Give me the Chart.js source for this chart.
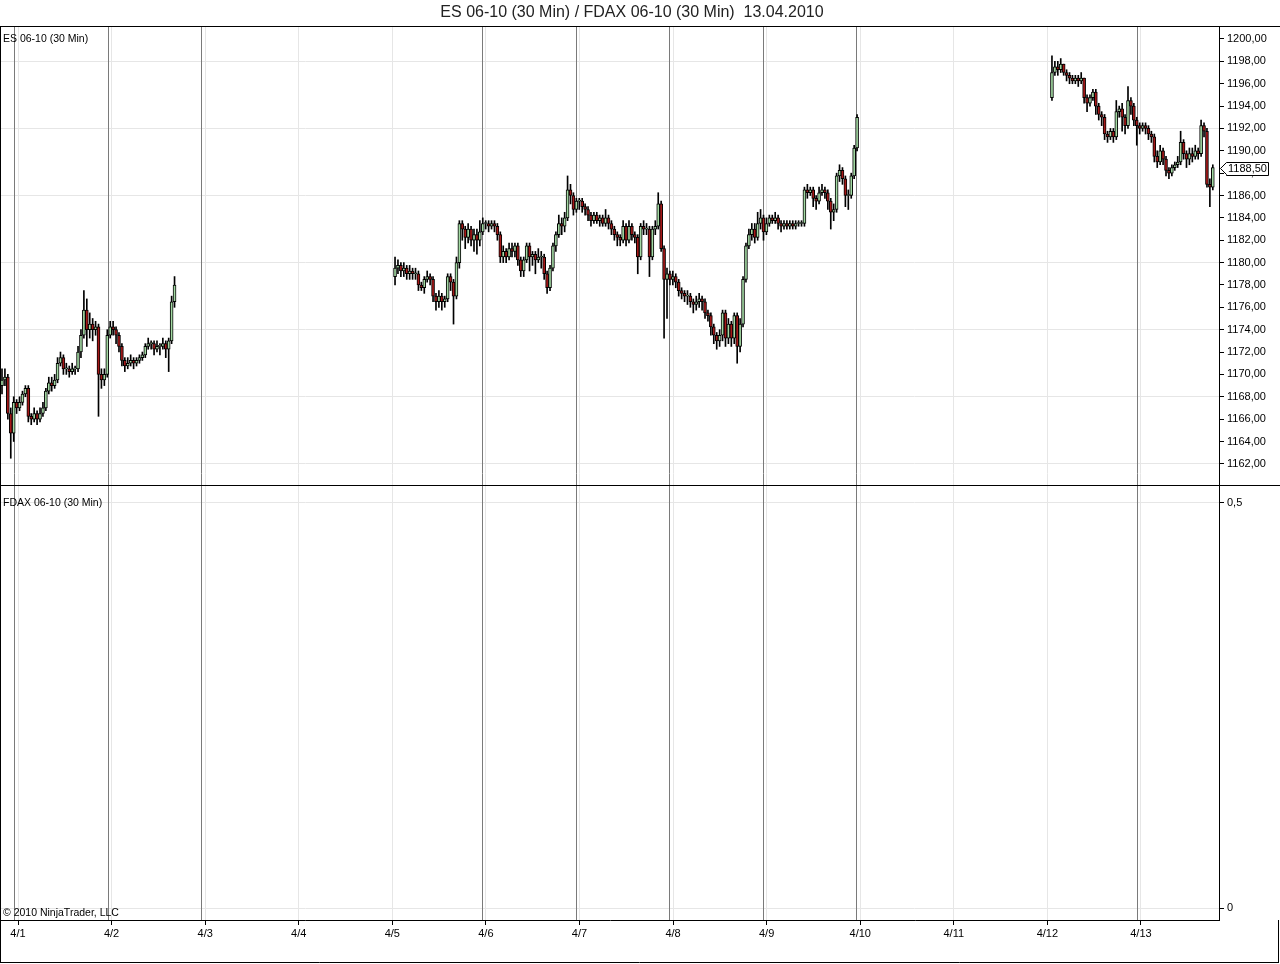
<!DOCTYPE html>
<html>
<head>
<meta charset="utf-8">
<script src="https://cdn.jsdelivr.net/npm/chart.js@4.4.0/dist/chart.umd.min.js"></script>
<style>
  html, body { margin: 0; padding: 0; background: #fff; }
  canvas { display: block; }
</style>
</head>
<body>
<canvas id="chart" width="1280" height="964"></canvas>
<script>
// time axis is in days of April 2010, one bar every barStep days
var barStep = 1 / 32;
var dayTicks = [1, 2, 3, 4, 5, 6, 7, 8, 9, 10, 11, 12, 13];
var sessionBreaks = [0.958, 1.958, 2.958, 5.958, 6.958, 7.958, 8.958, 9.958, 12.958];

// ES price ticks (upper pane) and FDAX ticks (lower pane)
var esTicks = [1162, 1164, 1166, 1168, 1170, 1172, 1174, 1176, 1178, 1180, 1182, 1184, 1186, 1188, 1190, 1192, 1194, 1196, 1198, 1200];
var esGridLevels = [1162, 1168, 1174, 1180, 1186, 1192, 1198];
var fdaxTicks = [0, 0.5];

// ES 06-10 candles, 4/1 - 4/2
var seg1Start = 0.829;
var seg1Open = 1169.0;
var seg1Close = [1169.5,1169.75,1166.5,1164.75,1167.5,1167.0,1167.5,1168.25,1168.75,1166.25,
  1166.0,1166.5,1166.0,1166.5,1167.0,1168.5,1169.25,1169.0,1169.5,1171.0,
  1171.5,1170.5,1170.5,1170.25,1170.5,1170.5,1172.0,1173.5,1175.75,1174.0,
  1174.5,1174.0,1174.25,1170.0,1169.5,1170.0,1173.5,1174.25,1174.0,1173.5,
  1172.5,1171.25,1170.75,1171.0,1171.25,1171.0,1171.25,1171.5,1171.75,1172.5,
  1172.75,1172.75,1172.25,1172.5,1172.5,1172.75,1172.25,1173.0,1176.5,1178.0];
var seg1High = [1170.5,1170.5,1170.0,1167.0,1168.0,1167.75,1168.0,1168.5,1169.0,1169.0,
  1166.5,1167.0,1166.75,1167.0,1167.5,1168.75,1169.75,1169.75,1170.0,1171.5,
  1172.0,1171.75,1171.0,1170.75,1171.0,1170.75,1172.5,1174.0,1177.5,1176.75,
  1175.5,1175.0,1174.75,1174.5,1170.5,1170.5,1174.0,1174.75,1174.75,1174.25,
  1173.75,1172.75,1171.5,1171.5,1171.75,1171.5,1171.5,1171.75,1172.0,1172.75,
  1173.25,1173.0,1173.0,1173.0,1172.75,1173.25,1173.0,1173.25,1177.0,1178.75];
var seg1Low = [1168.25,1169.0,1166.0,1162.5,1164.0,1166.5,1166.75,1167.25,1168.0,1165.75,
  1165.5,1165.75,1165.5,1165.75,1166.25,1166.75,1168.25,1168.5,1168.75,1169.25,
  1170.75,1170.0,1170.0,1169.75,1170.0,1170.0,1170.25,1171.5,1173.25,1172.5,
  1173.25,1173.0,1173.5,1166.25,1168.75,1169.0,1169.75,1173.25,1173.5,1172.75,
  1172.0,1170.75,1170.25,1170.5,1170.75,1170.5,1170.75,1171.0,1171.25,1171.5,
  1172.25,1172.25,1171.75,1172.0,1171.75,1172.25,1171.5,1170.25,1172.75,1176.0];

// 4/5 - 4/9
var seg2Start = 5.029;
var seg2Open = 1178.75;
var seg2Close = [1179.5,1179.75,1179.25,1179.5,1179.0,1179.25,1179.0,1179.0,1178.0,1177.75,
  1178.5,1178.75,1178.5,1177.0,1176.5,1177.0,1176.5,1176.75,1178.75,1178.25,
  1177.0,1180.0,1183.5,1183.0,1182.25,1183.0,1182.0,1182.5,1182.0,1182.75,
  1183.5,1183.5,1183.25,1183.5,1183.25,1182.5,1180.5,1181.0,1180.5,1181.25,
  1181.0,1181.5,1180.25,1179.25,1180.25,1181.5,1180.5,1180.75,1180.25,1180.5,
  1180.5,1179.0,1177.75,1179.5,1181.5,1182.5,1183.5,1183.25,1184.0,1186.5,
  1186.0,1184.75,1185.5,1185.5,1185.0,1184.75,1184.25,1183.75,1184.25,1183.75,
  1184.0,1183.5,1184.0,1183.5,1183.0,1182.5,1182.25,1182.0,1183.25,1182.0,
  1183.25,1182.5,1182.25,1180.5,1183.25,1183.0,1183.0,1180.5,1183.0,1183.25,
  1185.25,1181.25,1178.5,1179.0,1178.5,1178.75,1178.25,1177.5,1177.25,1177.0,
  1177.0,1176.5,1176.25,1176.5,1176.75,1176.5,1175.5,1175.25,1174.25,1173.5,
  1173.0,1173.5,1175.5,1173.25,1174.5,1173.25,1175.25,1172.5,1174.5,1178.5,
  1181.5,1182.5,1183.0,1182.25,1183.5,1184.0,1182.75,1183.5,1184.0,1183.75,
  1184.0,1183.5,1183.25,1183.5,1183.25,1183.5,1183.25,1183.5,1183.5,1183.5,
  1186.5,1186.25,1186.5,1185.75,1185.5,1186.25,1186.5,1186.25,1185.5,1184.5,
  1184.75,1187.75,1188.25,1187.5,1186.0,1186.0,1187.75,1190.25,1193.0];
var seg2High = [1180.5,1180.25,1180.0,1180.0,1179.75,1179.75,1179.5,1179.5,1179.25,1178.25,
  1178.75,1179.25,1179.0,1178.75,1177.25,1177.5,1177.25,1177.0,1179.0,1179.0,
  1178.5,1180.5,1183.75,1183.75,1183.25,1183.5,1183.25,1183.0,1183.0,1183.75,
  1184.0,1183.75,1183.75,1183.75,1183.75,1183.5,1182.75,1181.5,1181.25,1181.75,
  1181.75,1181.75,1181.75,1180.5,1180.5,1181.75,1181.75,1181.0,1181.0,1181.25,
  1181.0,1180.75,1179.25,1179.75,1181.75,1182.75,1184.25,1184.0,1184.5,1187.75,
  1187.0,1186.25,1185.75,1185.75,1185.75,1185.25,1185.0,1184.5,1184.5,1184.5,
  1184.25,1184.25,1184.75,1184.25,1183.75,1183.25,1182.75,1182.5,1183.75,1183.5,
  1183.75,1183.5,1182.75,1182.5,1183.5,1183.75,1183.5,1183.25,1183.25,1183.75,
  1186.25,1185.5,1181.5,1179.5,1179.25,1179.25,1179.0,1178.5,1177.75,1177.5,
  1177.5,1177.25,1176.75,1177.0,1177.25,1177.0,1176.75,1175.75,1175.5,1174.5,
  1173.75,1174.0,1175.75,1175.75,1175.0,1174.75,1175.5,1175.5,1175.0,1178.75,
  1181.75,1183.0,1183.5,1183.5,1184.5,1184.75,1184.25,1184.0,1184.25,1184.25,
  1184.5,1184.25,1183.75,1183.75,1183.75,1183.75,1183.75,1183.75,1183.75,1183.75,
  1186.75,1187.0,1186.75,1186.75,1186.0,1186.75,1187.0,1186.75,1186.5,1185.75,
  1185.25,1188.0,1188.75,1188.5,1187.75,1186.5,1188.0,1190.5,1193.25];
var seg2Low = [1178.0,1179.0,1178.75,1178.75,1178.5,1178.5,1178.5,1178.5,1177.5,1177.5,
  1177.25,1178.25,1178.0,1176.5,1175.75,1176.0,1175.75,1176.0,1176.5,1177.5,
  1174.5,1176.75,1179.5,1182.0,1181.25,1181.75,1181.5,1181.0,1180.75,1181.5,
  1182.5,1183.0,1182.75,1183.0,1182.75,1182.0,1180.0,1180.0,1180.0,1180.25,
  1180.5,1180.5,1179.75,1178.75,1178.75,1180.0,1179.25,1179.75,1179.0,1180.0,
  1179.5,1178.5,1177.25,1177.5,1179.25,1181.0,1182.25,1182.5,1182.75,1183.75,
  1185.25,1184.25,1184.5,1184.75,1184.5,1184.25,1183.75,1183.25,1183.5,1183.5,
  1183.25,1183.25,1183.25,1183.0,1182.5,1182.0,1181.5,1181.5,1181.75,1181.5,
  1181.75,1182.0,1181.75,1179.0,1180.25,1182.5,1182.5,1178.75,1180.25,1182.5,
  1183.0,1181.0,1173.25,1175.0,1178.0,1178.0,1177.75,1177.0,1176.75,1176.5,
  1176.25,1176.0,1175.5,1175.75,1176.0,1175.75,1175.0,1174.75,1173.5,1172.75,
  1172.25,1172.5,1173.0,1172.5,1172.75,1172.5,1172.75,1171.0,1172.0,1174.25,
  1178.25,1181.25,1182.0,1181.75,1182.0,1183.0,1182.0,1182.5,1183.25,1183.5,
  1183.5,1183.0,1182.75,1183.0,1183.0,1183.0,1183.0,1183.0,1183.25,1183.25,
  1183.25,1185.75,1186.0,1185.0,1184.75,1185.25,1186.0,1185.75,1184.75,1183.0,
  1183.75,1184.5,1187.25,1187.0,1185.0,1184.75,1185.75,1187.5,1190.0];

// 4/12 - 4/13
var seg3Start = 12.049;
var seg3Open = 1194.75;
var seg3Close = [1197.0,1197.5,1197.25,1197.75,1197.0,1196.75,1196.5,1196.25,1196.5,1196.25,
  1196.5,1194.75,1194.25,1194.75,1195.25,1194.0,1193.25,1193.0,1191.5,1191.25,
  1191.75,1191.25,1193.5,1193.75,1193.0,1192.25,1194.5,1194.0,1192.75,1192.25,
  1192.0,1192.25,1192.0,1191.5,1191.25,1189.5,1189.0,1190.0,1189.25,1188.25,
  1188.0,1188.5,1188.75,1189.0,1190.75,1189.75,1189.25,1189.75,1189.5,1190.0,
  1189.75,1192.25,1191.75,1187.0,1186.75,1188.5];
var seg3High = [1198.5,1198.0,1198.0,1198.25,1197.75,1197.25,1197.0,1196.75,1196.75,1196.75,
  1197.0,1196.5,1195.0,1195.0,1195.5,1195.5,1194.25,1193.5,1193.25,1191.75,
  1192.0,1192.0,1194.5,1194.0,1194.25,1193.25,1195.75,1194.75,1194.25,1193.0,
  1192.5,1192.5,1192.5,1192.25,1191.75,1191.5,1190.0,1190.5,1190.25,1189.5,
  1188.5,1188.75,1189.0,1189.5,1191.75,1191.0,1190.0,1190.25,1190.25,1190.5,
  1190.25,1192.75,1192.5,1192.0,1187.5,1188.75];
var seg3Low = [1194.5,1196.75,1196.75,1197.0,1196.75,1196.25,1196.0,1196.0,1196.0,1195.75,
  1196.0,1194.25,1193.5,1194.0,1194.5,1193.25,1192.75,1192.25,1191.0,1190.75,
  1191.0,1190.75,1191.0,1193.0,1191.75,1191.5,1192.0,1193.25,1192.25,1190.5,
  1191.5,1191.75,1191.5,1191.0,1190.75,1189.0,1188.5,1188.75,1188.75,1187.75,
  1187.5,1187.75,1188.25,1188.5,1188.75,1189.25,1188.5,1188.75,1189.0,1189.25,
  1189.25,1189.5,1191.25,1186.75,1185.0,1186.5];

// colors / fonts
const upColor = '#a3d9a3';
const downColor = '#a51818';
const gridColor = '#e6e6e6';
const sessionColor = '#7a7a7a';
const fontFamily = "'Liberation Sans', Arial, sans-serif";

var bodies = [];
var wicks = [];
function addSegment(start, open, closes, highs, lows) {
  var prev = open;
  closes.forEach((c, i) => {
    var t = start + i * barStep;
    bodies.push({ x: t, y: [prev, c] });
    wicks.push({ x: t, y: [lows[i], highs[i]] });
    prev = c;
  });
}
addSegment(seg1Start, seg1Open, seg1Close, seg1High, seg1Low);
addSegment(seg2Start, seg2Open, seg2Close, seg2High, seg2Low);
addSegment(seg3Start, seg3Open, seg3Close, seg3High, seg3Low);
var lastClose = seg3Close[seg3Close.length - 1];

function priceLabel(v) {
  return v.toFixed(2).replace('.', ',');
}

// frame, titles, session lines and last price marker
const decor = {
  id: 'decor',
  beforeDatasetsDraw(chart) {
    const ctx = chart.ctx, x = chart.scales.x, a = chart.chartArea;
    ctx.save();
    ctx.strokeStyle = sessionColor;
    ctx.lineWidth = 1;
    sessionBreaks.forEach(t => {
      var px = Math.round(x.getPixelForValue(t)) + 0.5;
      ctx.beginPath();
      ctx.moveTo(px, a.top);
      ctx.lineTo(px, a.bottom);
      ctx.stroke();
    });
    ctx.restore();
  },
  afterDraw(chart) {
    const ctx = chart.ctx, a = chart.chartArea, y = chart.scales.y;
    ctx.save();
    ctx.strokeStyle = '#000';
    ctx.lineWidth = 1;
    ctx.beginPath();
    ctx.moveTo(0, a.top - 0.5); ctx.lineTo(1280, a.top - 0.5);
    ctx.moveTo(0, Math.round(y.bottom) + 0.5); ctx.lineTo(1280, Math.round(y.bottom) + 0.5);
    ctx.moveTo(0.5, a.top); ctx.lineTo(0.5, 963);
    ctx.moveTo(0, 962.5); ctx.lineTo(1279, 962.5);
    ctx.moveTo(1278.5, a.bottom); ctx.lineTo(1278.5, 963);
    ctx.stroke();

    // title
    ctx.fillStyle = '#222';
    ctx.font = '16px ' + fontFamily;
    ctx.textAlign = 'center';
    ctx.textBaseline = 'middle';
    ctx.fillText('ES 06-10 (30 Min) / FDAX 06-10 (30 Min)  13.04.2010', 632, 13);

    // pane labels
    ctx.fillStyle = '#000';
    ctx.font = '10.5px ' + fontFamily;
    ctx.textAlign = 'left';
    ctx.fillText('ES 06-10 (30 Min)', 3, 39);
    ctx.fillText('FDAX 06-10 (30 Min)', 3, 503);
    ctx.fillText('\u00a9 2010 NinjaTrader, LLC', 3, 913);

    // last price marker
    var py = Math.round(y.getPixelForValue(lastClose)) + 0.5;
    var tip = a.right + 1.5;
    ctx.beginPath();
    ctx.moveTo(tip, py);
    ctx.lineTo(1226.5, py - 6);
    ctx.lineTo(1268.5, py - 6);
    ctx.lineTo(1268.5, py + 7);
    ctx.lineTo(1226.5, py + 7);
    ctx.lineTo(1226.5, py + 6);
    ctx.closePath();
    ctx.fillStyle = '#fff';
    ctx.fill();
    ctx.stroke();
    ctx.fillStyle = '#000';
    ctx.font = '11px ' + fontFamily;
    ctx.fillText(priceLabel(lastClose), 1228, py + 0.5);
    ctx.restore();
  }
};

Chart.defaults.font.family = fontFamily;
Chart.defaults.font.size = 11;
Chart.defaults.color = '#000';

new Chart('chart', {
  type: 'bar',
  data: {
    datasets: [{
      label: 'ES body',
      data: bodies,
      yAxisID: 'y',
      order: 0,
      grouped: false,
      barThickness: 3,
      minBarLength: 1,
      borderWidth: 1,
      borderSkipped: false,
      borderColor: '#000',
      backgroundColor: ctx => (ctx.raw && ctx.raw.y[1] < ctx.raw.y[0]) ? downColor : upColor
    }, {
      label: 'ES wick',
      data: wicks,
      yAxisID: 'y',
      order: 1,
      grouped: false,
      barThickness: 1,
      backgroundColor: '#000'
    }]
  },
  options: {
    responsive: false,
    animation: false,
    devicePixelRatio: 1,
    layout: { padding: { top: 27, left: 1, right: 0, bottom: 0 } },
    plugins: {
      legend: { display: false },
      tooltip: { enabled: false }
    },
    scales: {
      x: {
        type: 'linear',
        offset: false,
        min: 0.8183,
        max: 13.834,
        afterBuildTicks: s => { s.ticks = dayTicks.map(v => ({ value: v })); },
        afterFit: s => { s.height = 44; },
        ticks: { callback: v => '4/' + v, padding: 2, maxRotation: 0, autoSkip: false },
        grid: { offset: false, color: gridColor, tickColor: '#000', tickLength: 5 },
        border: { color: '#000' }
      },
      y: {
        type: 'linear',
        position: 'right',
        stack: 'panes',
        stackWeight: 458,
        min: 1160.107,
        max: 1201.073,
        afterBuildTicks: s => { s.ticks = esTicks.map(v => ({ value: v })); },
        afterFit: s => { s.width = 61; },
        ticks: { callback: v => priceLabel(v), padding: 3, autoSkip: false },
        grid: {
          color: ctx => (ctx.tick && esGridLevels.includes(ctx.tick.value)) ? gridColor : 'rgba(0,0,0,0)',
          tickColor: '#000',
          tickLength: 5
        },
        border: { color: '#000' }
      },
      y2: {
        type: 'linear',
        position: 'right',
        stack: 'panes',
        stackWeight: 435,
        min: -0.0148,
        max: 0.5222,
        afterBuildTicks: s => { s.ticks = fdaxTicks.map(v => ({ value: v })); },
        afterFit: s => { s.width = 61; },
        ticks: { callback: v => String(v).replace('.', ','), padding: 3, autoSkip: false },
        grid: { color: gridColor, tickColor: '#000', tickLength: 5 },
        border: { color: '#000' }
      }
    }
  },
  plugins: [decor]
});
</script>
</body>
</html>
